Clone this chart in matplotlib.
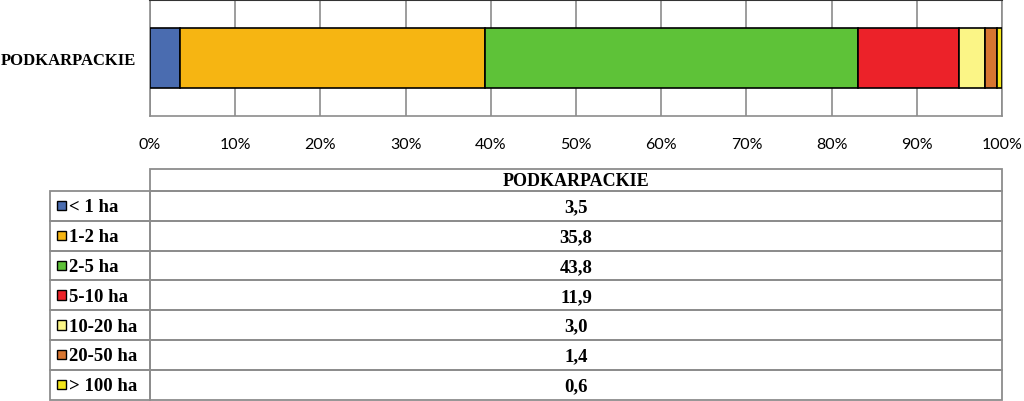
import matplotlib.pyplot as plt
from matplotlib.patches import Rectangle

# data
region = "PODKARPACKIE"
categories = ["< 1 ha", "1-2 ha", "2-5 ha", "5-10 ha", "10-20 ha", "20-50 ha", "> 100 ha"]
shares = [3.5, 35.8, 43.8, 11.9, 3.0, 1.4, 0.6]
colors = ["#4a6cb0", "#f6b512", "#5ec238", "#ec2229", "#fbf586", "#d87631", "#f4e61b"]
x_ticks = [0, 10, 20, 30, 40, 50, 60, 70, 80, 90, 100]

W, H = 1024, 402
fig = plt.figure(figsize=(W / 100, H / 100), dpi=100)

serif = ["Liberation Serif", "DejaVu Serif"]
grey = "#8c8c8c"

# bar axes
ax = fig.add_axes([150 / W, 1 - 117 / H, 852 / W, 116 / H])
left = 0
for val, col in zip(shares, colors):
    ax.barh(0, val, left=left, height=0.52, color=col, edgecolor="black", linewidth=1.2, zorder=3)
    left += val
ax.set_xlim(0, 100)
ax.set_ylim(-0.5, 0.5)
ax.set_xticks(x_ticks)
ax.set_xticklabels([f"{t}%" for t in x_ticks], family="Lato", fontsize=11.5)
ax.set_yticks([0])
ax.set_yticklabels([region], family=serif, fontweight="bold", fontsize=12)
ax.tick_params(length=0, pad=15)
ax.tick_params(axis="y", pad=10)
ax.grid(axis="x", color=grey, linewidth=1.2, zorder=0)
for s in ["left", "right", "bottom"]:
    ax.spines[s].set_color(grey)
    ax.spines[s].set_linewidth(1.2)
ax.spines["top"].set_color("#333333")
ax.spines["top"].set_linewidth(1.5)

# data table drawn by hand
tx = fig.add_axes([0, 0, 1, 1])
tx.set_xlim(0, W)
tx.set_ylim(H, 0)
tx.axis("off")

x0, x1, x2 = 50, 150, 1002
head_top, head_bot = 170, 192
row_h = 29.8
n = len(categories)
lw = 1.3

# header cell
tx.add_patch(Rectangle((x1, head_top), x2 - x1, head_bot - head_top, fill=False, edgecolor=grey, linewidth=lw))
tx.text((x1 + x2) / 2, (head_top + head_bot) / 2 + 1, region, ha="center", va="center",
        family=serif, fontweight="bold", fontsize=13)

for i, (cat, val, col) in enumerate(zip(categories, shares, colors)):
    y = head_bot + i * row_h
    tx.add_patch(Rectangle((x0, y), x1 - x0, row_h, fill=False, edgecolor=grey, linewidth=lw))
    tx.add_patch(Rectangle((x1, y), x2 - x1, row_h, fill=False, edgecolor=grey, linewidth=lw))
    tx.add_patch(Rectangle((56.5, y + row_h / 2 - 5), 9.5, 9.5, facecolor=col, edgecolor="black", linewidth=1))
    tx.text(69, y + row_h / 2 + 1, cat, ha="left", va="center", family=serif, fontweight="bold", fontsize=13.5)
    tx.text((x1 + x2) / 2, y + row_h / 2 + 1, f"{val:.1f}".replace(".", ","), ha="center", va="center",
            family=serif, fontweight="bold", fontsize=13.5)

fig.savefig("out.png", dpi=100)
